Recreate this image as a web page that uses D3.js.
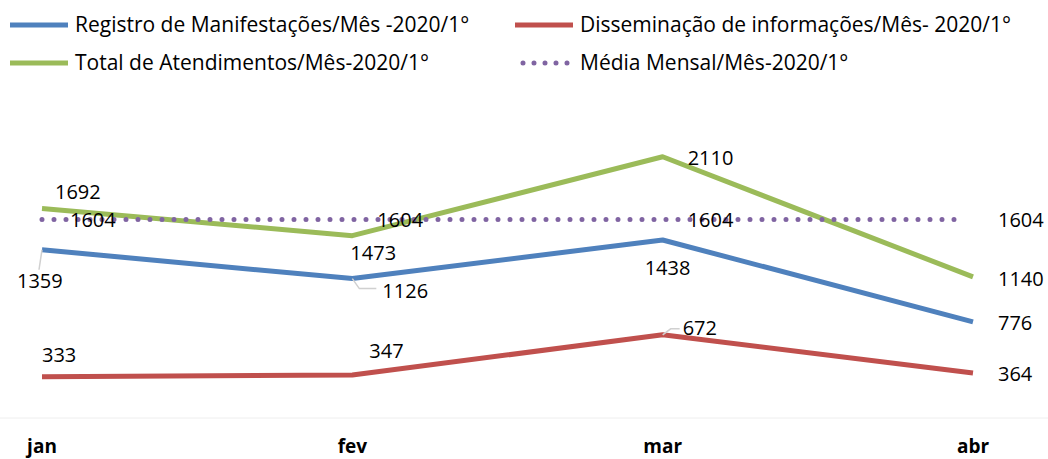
<!DOCTYPE html>
<html>
<head>
<meta charset="utf-8">
<script src="https://cdn.jsdelivr.net/npm/d3@7"></script>
<style>
  body { margin: 0; background: #fff; }
  text { font-family: "Open Sans", sans-serif; fill: #000; }
</style>
</head>
<body>
<div id="main"></div>
<script>
// data
var months = ['jan', 'fev', 'mar', 'abr'];
var registro = [1359, 1126, 1438, 776];
var disseminacao = [333, 347, 672, 364];
var total = [1692, 1473, 2110, 1140];
var media = [1604, 1604, 1604, 1604];
var seriesNames = [
    'Registro de Manifestações/Mês -2020/1°',
    'Disseminação de informações/Mês- 2020/1°',
    'Total de Atendimentos/Mês-2020/1°',
    'Média Mensal/Mês-2020/1°'
];

var width = 1048, height = 459;
var svg = d3.select('#main')
    .append('svg')
    .attr('width', width)
    .attr('height', height);

var x = d3.scalePoint().domain(months).range([42, 973]);
var y = d3.scaleLinear().domain([0, 2500]).range([418, 108.5]);

// faint category axis line
svg.append('line')
    .attr('x1', 0).attr('x2', width)
    .attr('y1', y(0)).attr('y2', y(0))
    .attr('stroke', '#eeeeee')
    .attr('stroke-width', 1);

svg.append('g')
    .selectAll('text')
    .data(months)
    .join('text')
    .attr('x', d => x(d))
    .attr('y', 453)
    .attr('text-anchor', 'middle')
    .attr('font-size', 19)
    .attr('font-weight', 'bold')
    .text(d => d);

// series definitions; labels = [dx, dy] of the label's left edge from the point
var series = [
    { name: seriesNames[2], values: total, color: '#9BBB59', dotted: false,
      labels: [[13, -17], [-2, 17], [25, 1], [25, 2]] },
    { name: seriesNames[3], values: media, color: '#8064A2', dotted: true,
      labels: [[28, 1], [25, 1], [25, 1], [25, 1]] },
    { name: seriesNames[0], values: registro, color: '#4F81BD', dotted: false,
      labels: [[-25, 31], [30, 12], [-18, 28], [25, 1]] },
    { name: seriesNames[1], values: disseminacao, color: '#C0504D', dotted: false,
      labels: [[0, -22], [17, -24], [20, -7], [25, 1]] }
];

var line = d3.line()
    .x((d, i) => x(months[i]))
    .y(d => y(d));

series.forEach(function (s) {
    var path = svg.append('path')
        .attr('d', line(s.values))
        .attr('fill', 'none')
        .attr('stroke', s.color)
        .attr('stroke-width', 5)
        .attr('stroke-linejoin', 'round');
    if (s.dotted) {
        path.attr('d', d3.line()([[x(months[0]), y(s.values[0])], [x(months[3]) - 8, y(s.values[3])]]))
            .attr('stroke-dasharray', '0 12')
            .attr('stroke-linecap', 'round');
    }
});

// leader lines for displaced labels
var leaders = [
    [[x('jan'), y(1359)], [x('jan') - 3, y(1359) + 20]],
    [[x('fev'), y(1126)], [x('fev') + 7, y(1126) + 10], [x('fev') + 24, y(1126) + 10]],
    [[x('mar'), y(672)], [x('mar') + 8, y(672) - 6], [x('mar') + 17, y(672) - 6]]
];
leaders.forEach(function (pts) {
    svg.append('path')
        .attr('d', d3.line()(pts))
        .attr('fill', 'none')
        .attr('stroke', '#d0d0d0')
        .attr('stroke-width', 1.5);
});

series.forEach(function (s) {
    svg.append('g')
        .selectAll('text')
        .data(s.values)
        .join('text')
        .attr('x', (d, i) => x(months[i]) + s.labels[i][0])
        .attr('y', (d, i) => y(d) + s.labels[i][1])
        .attr('dy', '0.35em')
        .attr('font-size', 20)
        .text(d => d);
});

// legend
var legend = [
    { s: series[2], lx: 10, ly: 25 },
    { s: series[3], lx: 515, ly: 25 },
    { s: series[0], lx: 10, ly: 63 },
    { s: series[1], lx: 515, ly: 63 }
];
legend.forEach(function (l) {
    var g = svg.append('g').attr('transform', 'translate(' + l.lx + ',' + l.ly + ')');
    var sw = g.append('line')
        .attr('x1', 0).attr('x2', 58)
        .attr('y1', 0).attr('y2', 0)
        .attr('stroke', l.s.color)
        .attr('stroke-width', 5);
    if (l.s.dotted) {
        sw.attr('x1', 8).attr('x2', 58)
            .attr('stroke-dasharray', '0 11')
            .attr('stroke-linecap', 'round');
    }
    g.append('text')
        .attr('x', 65)
        .attr('y', 0)
        .attr('dy', '0.35em')
        .attr('font-size', 21)
        .text(l.s.name);
});
</script>
</body>
</html>
